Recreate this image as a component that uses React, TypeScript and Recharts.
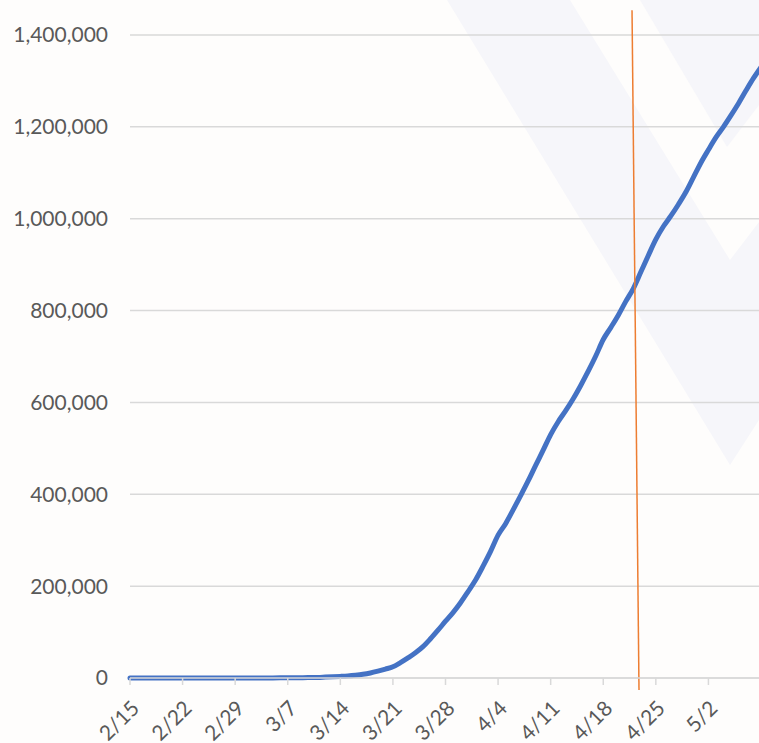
import { LineChart, Line, XAxis, YAxis, CartesianGrid, ReferenceLine } from "recharts";

// cumulative confirmed cases, one value per day from 2/15 to 5/9
const febCases = [15, 15, 15, 15, 15, 15, 35, 35, 35, 53, 53, 59, 60, 62, 68];
const marCases = [
  75, 100, 124, 158, 221, 319, 435, 541, 704, 994,
  1301, 2000, 2700, 3500, 4500, 6000, 8000, 11000, 15000, 19500,
  24500, 33592, 43781, 54856, 68211, 85435, 104126, 123578, 142460, 163960, 188172,
];
const aprCases = [
  213372, 243453, 275586, 311000, 336000, 366000, 397000, 429000, 463000, 496000,
  530000, 558000, 582000, 608000, 637000, 668000, 701000, 737000, 763000, 790000,
  820000, 848000, 884000, 920000, 955000, 983000, 1006000, 1031000, 1058000, 1090000,
];
const mayCases = [1122000, 1150000, 1177000, 1200000, 1225000, 1251000, 1279000, 1306000, 1330000];

const cases = [...febCases, ...marCases, ...aprCases, ...mayCases];

// weekly category ticks (days since 2/15)
const tickDays = [0, 7, 14, 21, 28, 35, 42, 49, 56, 63, 70, 77];
const tickLabels = ["2/15", "2/22", "2/29", "3/7", "3/14", "3/21", "3/28", "4/4", "4/11", "4/18", "4/25", "5/2"];
const valueTicks = [0, 200000, 400000, 600000, 800000, 1000000, 1200000, 1400000];

// hand-drawn marker line, slightly slanted (day, value) at each end
const markerDays = [66.83, 67.76];
const markerValues = [1454000, -26000];

const data = cases.map((value, day) => ({ day, cases: value }));

const GREY_TEXT = "#595959";
const GRID = "#D9D9D9";
const tickStyle = { fill: GREY_TEXT, fontSize: 21, fontFamily: "Lato" };

function Watermark() {
  return (
    <svg width={759} height={743} style={{ position: "absolute", left: 0, top: 0 }}>
      <polygon points="447,0 570,0 730,260 759,222 759,420 730,465" fill="#F6F6FA" />
      <polygon points="640,0 759,0 759,105 727,147" fill="#F6F6FA" />
    </svg>
  );
}

export default function App() {
  return (
    <div
      style={{
        position: "absolute",
        left: 0,
        top: 0,
        width: 759,
        height: 743,
        overflow: "hidden",
        background: "#FEFDFC",
      }}
    >
      <Watermark />
      <div style={{ position: "absolute", left: 0, top: 0 }}>
        <LineChart
          width={761}
          height={743}
          data={data}
          margin={{ top: 35, right: 0, left: 0, bottom: 0 }}
          style={{ fontFamily: "Lato" }}
        >
          <CartesianGrid vertical={false} stroke={GRID} strokeWidth={1.5} />
          <XAxis
            type="number"
            dataKey="day"
            domain={[0, "dataMax"]}
            ticks={tickDays}
            interval={0}
            tickFormatter={(d: number) => tickLabels[tickDays.indexOf(d)] ?? ""}
            angle={-45}
            textAnchor="end"
            tick={tickStyle}
            tickSize={7}
            tickMargin={14}
            axisLine={{ stroke: GRID, strokeWidth: 1.5 }}
            tickLine={{ stroke: GRID, strokeWidth: 1.5 }}
            height={65}
          />
          <YAxis
            type="number"
            domain={[0, 1400000]}
            ticks={valueTicks}
            interval={0}
            tickFormatter={(v: number) => v.toLocaleString("en-US")}
            tick={tickStyle}
            axisLine={false}
            tickLine={false}
            tickSize={6}
            tickMargin={16}
            width={130}
          />
          <Line
            type="monotone"
            dataKey="cases"
            stroke="#4472C4"
            strokeWidth={5}
            strokeLinecap="round"
            strokeLinejoin="round"
            dot={false}
            activeDot={false}
            isAnimationActive={false}
          />
          <ReferenceLine
            segment={[
              { x: markerDays[0], y: markerValues[0] },
              { x: markerDays[1], y: markerValues[1] },
            ]}
            stroke="#ED7D31"
            strokeWidth={1.5}
            ifOverflow="visible"
          />
        </LineChart>
      </div>
    </div>
  );
}
